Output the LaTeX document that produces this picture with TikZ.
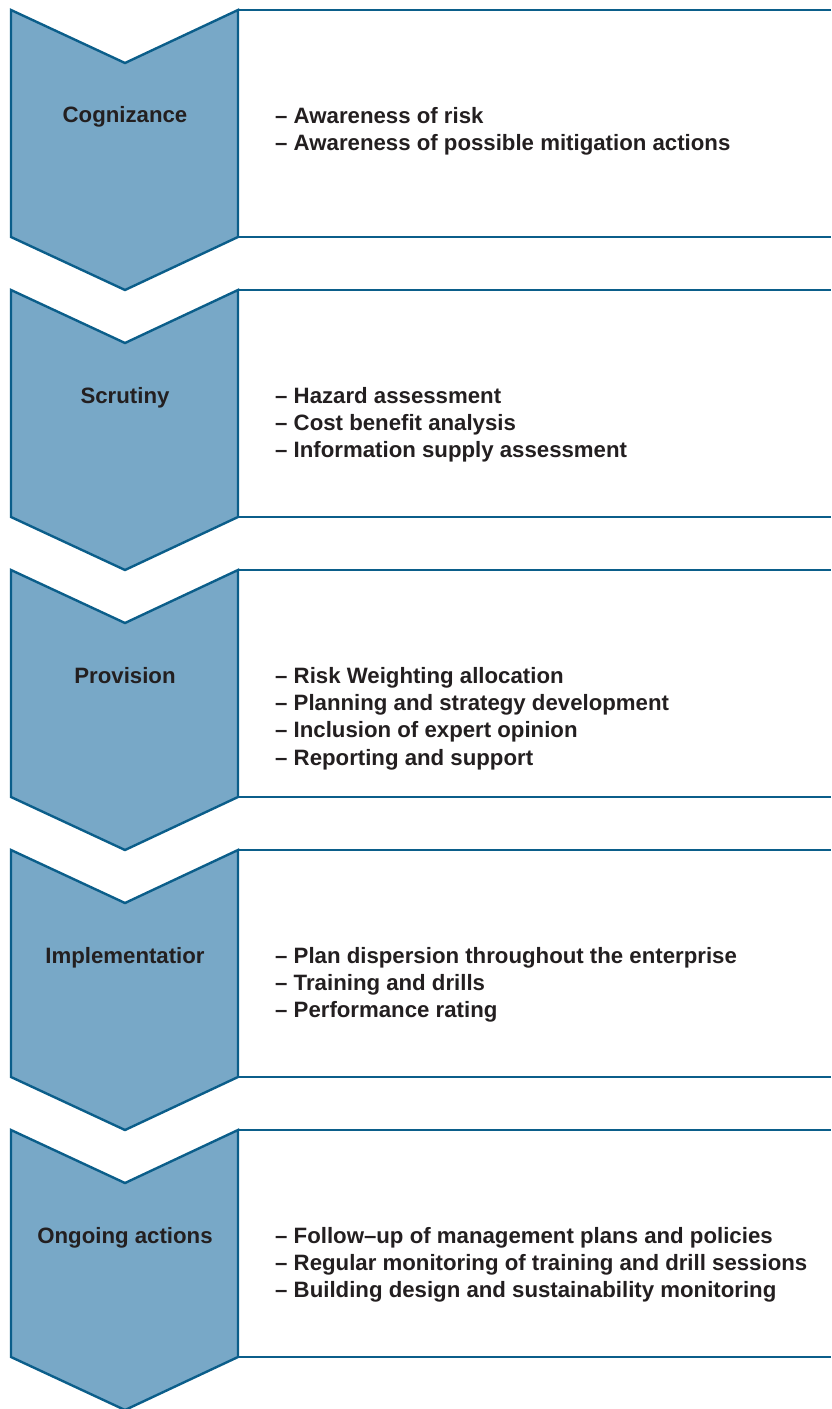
\documentclass[tikz,border=0pt]{standalone}
\usepackage{fontspec}
\setmainfont{Liberation Sans}
\usepackage{xcolor}
\usepackage{tikz}
\definecolor{chevfill}{HTML}{78A8C7}
\definecolor{chevline}{HTML}{0B5E8A}
\definecolor{txtdark}{HTML}{231F20}
\newcommand{\firstln}{\rule{0pt}{17bp}}
\tikzset{
  chev/.style={fill=chevfill, draw=chevline, line width=2.4bp, line join=miter},
  boxline/.style={draw=chevline, line width=2.4bp},
  stagelbl/.style={font=\bfseries\fontsize{22.3}{27.4}\selectfont, text=txtdark,
    inner sep=0pt, anchor=base},
  itemlist/.style={font=\bfseries\fontsize{22.3}{27.4}\selectfont, text=txtdark,
    inner sep=0pt, align=left, anchor=north west}
}
\begin{document}
\begin{tikzpicture}[x=1bp, y=-1bp]
\useasboundingbox (0,0) rectangle (831,1409);

% Chevrons and open boxes
\foreach \t [count=\i] in {10,290,570,850,1130} {
  \draw[chev] (11,\t) coordinate (c\i) -- ++(114,53) -- ++(113,-53)
    -- ++(0,227) -- ++(-113,53) -- ++(-114,-53) -- cycle;
  \draw[boxline] (238,\t) -- (831,\t);
  \draw[boxline] (238,\t+227) -- (831,\t+227);
}

% Cognizance
\node[stagelbl] (cogn) at (125,123) {Cognizance};
\node[itemlist] (cognitems) at (275,106)
  {\firstln– Awareness of risk\\
   – Awareness of possible mitigation actions};

% Scrutiny
\node[stagelbl] (scru) at (125,403) {Scrutiny};
\node[itemlist] (scruitems) at (275,386)
  {\firstln– Hazard assessment\\
   – Cost benefit analysis\\
   – Information supply assessment};

% Provision
\node[stagelbl] (prov) at (125,683) {Provision};
\node[itemlist] (provitems) at (275,666)
  {\firstln– Risk Weighting allocation\\
   – Planning and strategy development\\
   – Inclusion of expert opinion\\
   – Reporting and support};

% Implementation
\node[stagelbl] (impl) at (125,963) {Implementatior};
\node[itemlist] (implitems) at (275,946)
  {\firstln– Plan dispersion throughout the enterprise\\
   – Training and drills\\
   – Performance rating};

% Ongoing actions
\node[stagelbl] (ongo) at (125,1243) {Ongoing actions};
\node[itemlist] (ongoitems) at (275,1226)
  {\firstln– Follow–up of management plans and policies\\
   – Regular monitoring of training and drill sessions\\
   – Building design and sustainability monitoring};

\end{tikzpicture}
\end{document}
